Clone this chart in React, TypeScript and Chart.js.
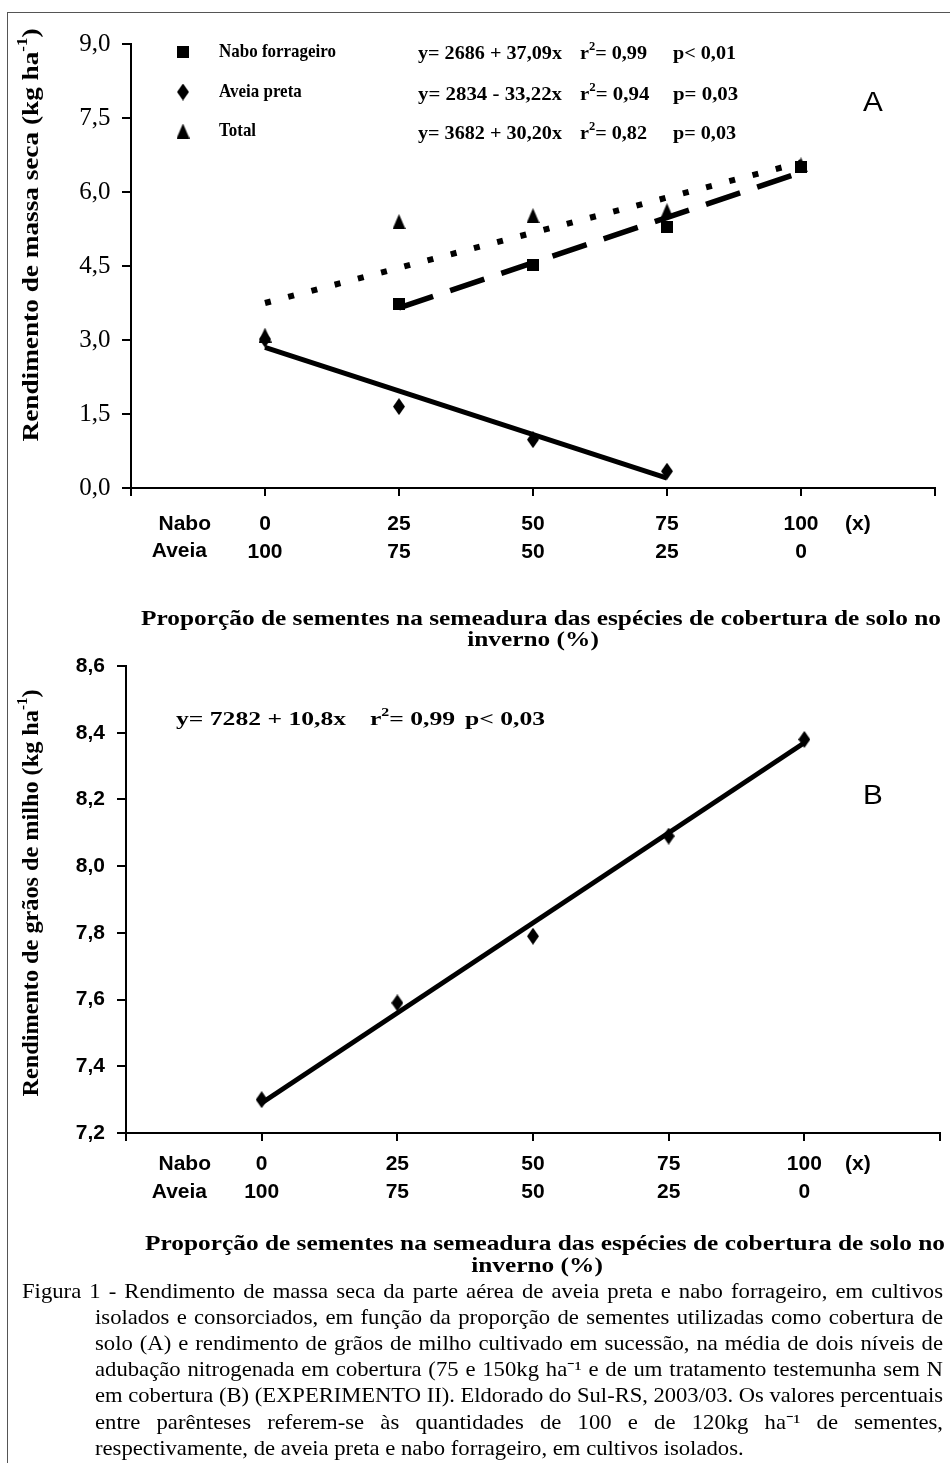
import React, { useEffect, useRef } from 'react';
import { Chart, registerables } from 'chart.js';

Chart.register(...registerables);

// ---------------- data ----------------
const xCategories = [0, 25, 50, 75, 100];
const naboTickLabels = ['0', '25', '50', '75', '100'];
const aveiaTickLabels = ['100', '75', '50', '25', '0'];
const xAxisTicks = [-25, 0, 25, 50, 75, 100, 125];

const yTicksA = [0, 1.5, 3, 4.5, 6, 7.5, 9];
const naboForrageiroA: (number | null)[] = [null, 3.73, 4.53, 5.3, 6.5];
const aveiaPretaA: (number | null)[] = [3.02, 1.65, 0.98, 0.34, null];
const totalA: (number | null)[] = [3.1, 5.4, 5.52, 5.62, 6.55];
const naboFitX = [25, 100];
const naboFitY = [3.65, 6.4];
const aveiaFitX = [0, 75];
const aveiaFitY = [2.85, 0.2];
const totalFitX = [0, 100];
const totalFitY = [3.75, 6.6];

const yTicksB = [7.2, 7.4, 7.6, 7.8, 8.0, 8.2, 8.4, 8.6];
const milhoB: (number | null)[] = [7.3, 7.59, 7.79, 8.09, 8.38];
const milhoFitX = [0, 100];
const milhoFitY = [7.29, 8.37];

const legendNames = ['Nabo forrageiro', 'Aveia preta', 'Total'];
const equationsA = [
  ['y= 2686 + 37,09x', 'r^{2}= 0,99', 'p< 0,01'],
  ['y= 2834 - 33,22x', 'r^{2}= 0,94', 'p= 0,03'],
  ['y= 3682 + 30,20x', 'r^{2}= 0,82', 'p= 0,03'],
];
const equationB = ['y= 7282 + 10,8x', 'r^{2}= 0,99', 'p< 0,03'];
const yTitleA = 'Rendimento de massa seca (kg ha^{-1})';
const yTitleB = 'Rendimento de grãos de milho (kg ha^{-1})';
const xTitleLines = [
  'Proporção de sementes na semeadura das espécies de cobertura de solo no',
  'inverno (%)',
];
const rowNames = ['Nabo', 'Aveia'];
const captionLines = [
  'Figura 1 - Rendimento de massa seca da parte aérea de aveia preta e nabo forrageiro, em cultivos',
  'isolados e consorciados, em função da proporção de sementes utilizadas como cobertura de',
  'solo (A) e rendimento de grãos de milho cultivado em sucessão, na média de dois níveis de',
  'adubação nitrogenada em cobertura (75 e 150kg ha⁻¹ e de um tratamento testemunha sem N',
  'em cobertura (B) (EXPERIMENTO II). Eldorado do Sul-RS, 2003/03. Os valores percentuais',
  'entre parênteses referem-se às quantidades de 100 e de 120kg ha⁻¹ de sementes,',
  'respectivamente, de aveia preta e nabo forrageiro, em cultivos isolados.',
];

// ---------------- helpers ----------------
const SERIF = '"Liberation Serif", "Times New Roman", serif';
const SANS = '"Liberation Sans", Arial, sans-serif';
const fontStr = (size: number, family: string, weight = 'normal') => `${weight} ${size}px ${family}`;

type Seg = { t: string; sup: boolean };
function parseSegs(s: string): Seg[] {
  const out: Seg[] = [];
  const re = /\^\{([^}]*)\}/g;
  let last = 0;
  let m: RegExpExecArray | null;
  while ((m = re.exec(s))) {
    if (m.index > last) out.push({ t: s.slice(last, m.index), sup: false });
    out.push({ t: m[1], sup: true });
    last = m.index + m[0].length;
  }
  if (last < s.length) out.push({ t: s.slice(last), sup: false });
  return out;
}

interface TextOpts {
  x: number;
  y: number;
  size: number;
  family: string;
  weight?: string;
  align?: 'left' | 'center' | 'right';
  width?: number;
  scaleX?: number;
  rotate?: boolean;
}

function richWidth(ctx: CanvasRenderingContext2D, segs: Seg[], size: number, family: string, weight: string) {
  let w = 0;
  for (const s of segs) {
    ctx.font = fontStr(s.sup ? size * 0.62 : size, family, weight);
    w += ctx.measureText(s.t).width;
  }
  return w;
}

function drawRich(ctx: CanvasRenderingContext2D, text: string, o: TextOpts): number {
  const segs = parseSegs(text);
  const weight = o.weight ?? 'normal';
  const natural = richWidth(ctx, segs, o.size, o.family, weight);
  const sx = o.width ? o.width / natural : o.scaleX ?? 1;
  const total = natural * sx;
  const align = o.align ?? 'left';
  const start = align === 'left' ? 0 : align === 'center' ? -total / 2 : -total;
  ctx.save();
  ctx.translate(o.x, o.y);
  if (o.rotate) ctx.rotate(-Math.PI / 2);
  ctx.translate(start, 0);
  ctx.scale(sx, 1);
  ctx.fillStyle = '#000';
  ctx.textBaseline = 'middle';
  ctx.textAlign = 'left';
  let cx = 0;
  for (const s of segs) {
    const sz = s.sup ? o.size * 0.62 : o.size;
    ctx.font = fontStr(sz, o.family, weight);
    ctx.fillText(s.t, cx, s.sup ? -o.size * 0.38 : 0);
    cx += ctx.measureText(s.t).width;
  }
  ctx.restore();
  return sx;
}

function drawJustified(
  ctx: CanvasRenderingContext2D,
  text: string,
  left: number,
  right: number,
  y: number,
  size: number,
  sx0: number,
  justify: boolean
) {
  ctx.save();
  ctx.font = fontStr(size, SERIF);
  const words = text.split(' ');
  const ww = words.map((w) => ctx.measureText(w).width);
  const space = ctx.measureText(' ').width;
  const sumW = ww.reduce((a, b) => a + b, 0);
  const target = right - left;
  let sx = sx0;
  const natural = (sumW + space * (words.length - 1)) * sx;
  if (natural > target) sx = target / (sumW + space * (words.length - 1));
  let gap = space * sx;
  if (justify && words.length > 1) gap = (target - sumW * sx) / (words.length - 1);
  ctx.fillStyle = '#000';
  ctx.textBaseline = 'middle';
  ctx.textAlign = 'left';
  let x = left;
  words.forEach((w, i) => {
    ctx.save();
    ctx.translate(x, y);
    ctx.scale(sx, 1);
    ctx.fillText(w, 0, 0);
    ctx.restore();
    x += ww[i] * sx + gap;
  });
  ctx.restore();
}

function makeMarker(kind: 'square' | 'diamond' | 'triangle'): HTMLCanvasElement {
  const c = document.createElement('canvas');
  const [w, h] = kind === 'square' ? [12, 12] : kind === 'diamond' ? [12, 17] : [13, 15];
  c.width = w;
  c.height = h;
  const g = c.getContext('2d')!;
  g.fillStyle = '#000';
  g.beginPath();
  if (kind === 'square') g.rect(0, 0, w, h);
  else if (kind === 'diamond') {
    g.moveTo(w / 2, 0);
    g.lineTo(w, h / 2);
    g.lineTo(w / 2, h);
    g.lineTo(0, h / 2);
    g.closePath();
  } else {
    g.moveTo(w / 2, 0);
    g.lineTo(w, h);
    g.lineTo(0, h);
    g.closePath();
  }
  g.fill();
  return c;
}

const toPoints = (xs: number[], ys: (number | null)[]) =>
  xs.map((x, i) => ({ x, y: ys[i] })).filter((p) => p.y !== null) as { x: number; y: number }[];

const commaFmt = (v: number | string) => Number(v).toFixed(1).replace('.', ',');

const X_TICK_FONT = { family: '"Liberation Sans", Arial, sans-serif', weight: 'bold' as const, size: 21, lineHeight: 1.3 };

function xScaleOptions(padding: number, axisHeight: number) {
  return {
    type: 'linear' as const,
    min: -25,
    max: 125,
    afterBuildTicks: (s: any) => {
      s.ticks = xAxisTicks.map((v) => ({ value: v }));
    },
    afterFit: (s: any) => {
      s.height = axisHeight;
    },
    ticks: {
      autoSkip: false,
      maxRotation: 0,
      minRotation: 0,
      padding,
      color: '#000',
      font: X_TICK_FONT,
      callback: (v: any) => {
        const i = xCategories.indexOf(Number(v));
        return i < 0 ? '' : [naboTickLabels[i], aveiaTickLabels[i]];
      },
    },
    grid: { display: true, drawOnChartArea: false, drawTicks: true, tickLength: 8, color: '#000', lineWidth: 2 },
    border: { display: true, color: '#000', width: 2 },
  };
}

function yScaleOptions(min: number, max: number, tickVals: number[], width: number, font: any, padding: number) {
  return {
    type: 'linear' as const,
    min,
    max,
    afterBuildTicks: (s: any) => {
      s.ticks = tickVals.map((v) => ({ value: v }));
    },
    afterFit: (s: any) => {
      s.width = width;
    },
    ticks: { autoSkip: false, padding, color: '#000', font, callback: (v: any) => commaFmt(v) },
    grid: { display: true, drawOnChartArea: false, drawTicks: true, tickLength: 9, color: '#000', lineWidth: 2 },
    border: { display: true, color: '#000', width: 2 },
  };
}

function drawXRowNames(ctx: CanvasRenderingContext2D, yNabo: number, yAveia: number) {
  ctx.save();
  ctx.fillStyle = '#000';
  ctx.textBaseline = 'middle';
  ctx.font = `bold ${X_TICK_FONT.size}px ${X_TICK_FONT.family}`;
  ctx.textAlign = 'right';
  ctx.fillText(rowNames[0], 211, yNabo);
  ctx.fillText(rowNames[1], 207, yAveia);
  ctx.textAlign = 'left';
  ctx.fillText('(x)', 845, yNabo);
  ctx.restore();
}

function drawXTitle(ctx: CanvasRenderingContext2D, y1: number, y2: number, cx: number) {
  const sx = drawRich(ctx, xTitleLines[0], { x: cx, y: y1, size: 21, family: SERIF, weight: 'bold', align: 'center', width: 800 });
  drawRich(ctx, xTitleLines[1], { x: cx - 8, y: y2, size: 21, family: SERIF, weight: 'bold', align: 'center', scaleX: sx });
}

const CANVAS_A_H = 660;
const OFF_B = 640;
const CANVAS_B_H = 1463 - OFF_B;

export default function App() {
  const refA = useRef<HTMLCanvasElement>(null);
  const refB = useRef<HTMLCanvasElement>(null);

  useEffect(() => {
    const square = makeMarker('square');
    const diamond = makeMarker('diamond');
    const triangle = makeMarker('triangle');

    const lineDs = (xs: number[], ys: number[], dash: number[], width: number) => ({
      data: toPoints(xs, ys),
      showLine: true,
      borderColor: '#000',
      borderWidth: width,
      borderDash: dash,
      borderCapStyle: 'butt' as const,
      pointRadius: 0,
      fill: false,
    });
    const pointDs = (ys: (number | null)[], style: HTMLCanvasElement) => ({
      data: toPoints(xCategories, ys),
      showLine: false,
      pointStyle: style as any,
      pointRadius: 8,
      backgroundColor: '#000',
      borderColor: '#000',
    });

    const annotA = {
      id: 'annotA',
      afterDraw(chart: any) {
        const ctx: CanvasRenderingContext2D = chart.ctx;
        // legend
        const markers = [square, diamond, triangle];
        const rowY = [52, 92, 131];
        let lsx = 1;
        markers.forEach((m, i) => {
          ctx.drawImage(m, 183 - m.width / 2, rowY[i] - m.height / 2);
          const opts: TextOpts = { x: 219, y: rowY[i], size: 19, family: SERIF, weight: 'bold' };
          if (i === 0) lsx = drawRich(ctx, legendNames[i], { ...opts, width: 117 });
          else drawRich(ctx, legendNames[i], { ...opts, scaleX: lsx });
        });
        const eqY = [54, 95, 134];
        equationsA.forEach((eq, i) => {
          const sx = drawRich(ctx, eq[0], { x: 418, y: eqY[i], size: 19, family: SERIF, weight: 'bold', width: 144 });
          drawRich(ctx, eq[1], { x: 580, y: eqY[i], size: 19, family: SERIF, weight: 'bold', scaleX: sx });
          drawRich(ctx, eq[2], { x: 673, y: eqY[i], size: 19, family: SERIF, weight: 'bold', scaleX: sx });
        });
        drawRich(ctx, 'A', { x: 873, y: 104, size: 27, family: SANS, align: 'center', scaleX: 1.1 });
        drawRich(ctx, yTitleA, { x: 32, y: 235, size: 23, family: SERIF, weight: 'bold', align: 'center', width: 413, rotate: true });
        drawXRowNames(ctx, 524, 551);
        drawXTitle(ctx, 620, 641, 541);
      },
    };

    const chartA = new Chart(refA.current!, {
      type: 'scatter',
      data: {
        datasets: [
          pointDs(naboForrageiroA, square),
          pointDs(totalA, triangle),
          pointDs(aveiaPretaA, diamond),
          lineDs(totalFitX, totalFitY, [6, 18], 6),
          lineDs(naboFitX, naboFitY, [36, 18], 5.5),
          lineDs(aveiaFitX, aveiaFitY, [], 5),
        ] as any,
      },
      options: {
        responsive: false,
        maintainAspectRatio: false,
        animation: false,
        layout: { padding: { top: 44, right: 9, left: 0, bottom: 0 } },
        plugins: { legend: { display: false }, tooltip: { enabled: false } },
        scales: {
          x: xScaleOptions(15, CANVAS_A_H - 488) as any,
          y: yScaleOptions(0, 9, yTicksA, 131, { family: '"Liberation Serif", "Times New Roman", serif', size: 25 }, 11.5) as any,
        },
      },
      plugins: [annotA],
    });

    const annotB = {
      id: 'annotB',
      afterDraw(chart: any) {
        const ctx: CanvasRenderingContext2D = chart.ctx;
        ctx.save();
        ctx.translate(0, -OFF_B);
        const sx = drawRich(ctx, equationB[0], { x: 176, y: 720, size: 19, family: SERIF, weight: 'bold', width: 170 });
        drawRich(ctx, equationB[1], { x: 370, y: 720, size: 19, family: SERIF, weight: 'bold', scaleX: sx });
        drawRich(ctx, equationB[2], { x: 465, y: 720, size: 19, family: SERIF, weight: 'bold', scaleX: sx });
        drawRich(ctx, 'B', { x: 873, y: 797, size: 27, family: SANS, align: 'center', scaleX: 1.1 });
        drawRich(ctx, yTitleB, { x: 32, y: 893, size: 23, family: SERIF, weight: 'bold', align: 'center', width: 407, rotate: true });
        drawXRowNames(ctx, 1164, 1192);
        drawXTitle(ctx, 1245, 1267, 545);
        captionLines.forEach((line, i) => {
          const left = i === 0 ? 22 : 95;
          const last = i === captionLines.length - 1;
          drawJustified(ctx, line, left, 943, 1292 + i * 26.2, 21, 1.08, !last);
        });
        ctx.restore();
      },
    };

    const chartB = new Chart(refB.current!, {
      type: 'scatter',
      data: {
        datasets: [pointDs(milhoB, diamond), lineDs(milhoFitX, milhoFitY, [], 5)] as any,
      },
      options: {
        responsive: false,
        maintainAspectRatio: false,
        animation: false,
        layout: { padding: { top: 666 - OFF_B, right: 9, left: 0, bottom: 0 } },
        plugins: { legend: { display: false }, tooltip: { enabled: false } },
        scales: {
          x: xScaleOptions(10, CANVAS_B_H - (1133 - OFF_B)) as any,
          y: yScaleOptions(7.2, 8.6, yTicksB, 126, { family: '"Liberation Sans", Arial, sans-serif', weight: 'bold', size: 21 }, 12) as any,
        },
      },
      plugins: [annotB],
    });

    return () => {
      chartA.destroy();
      chartB.destroy();
    };
  }, []);

  return (
    <div style={{ position: 'absolute', left: 0, top: 0, width: 950, height: 1463, background: '#fff', overflow: 'hidden' }}>
      <div
        style={{
          position: 'absolute',
          left: 7,
          top: 12,
          width: 960,
          height: 1470,
          borderTop: '1.5px solid #555',
          borderLeft: '1.5px solid #555',
          boxSizing: 'border-box',
        }}
      />
      <canvas
        ref={refA}
        width={950}
        height={CANVAS_A_H}
        style={{ position: 'absolute', left: 0, top: 0, width: 950, height: CANVAS_A_H }}
      />
      <canvas
        ref={refB}
        width={950}
        height={CANVAS_B_H}
        style={{ position: 'absolute', left: 0, top: OFF_B, width: 950, height: CANVAS_B_H }}
      />
    </div>
  );
}
